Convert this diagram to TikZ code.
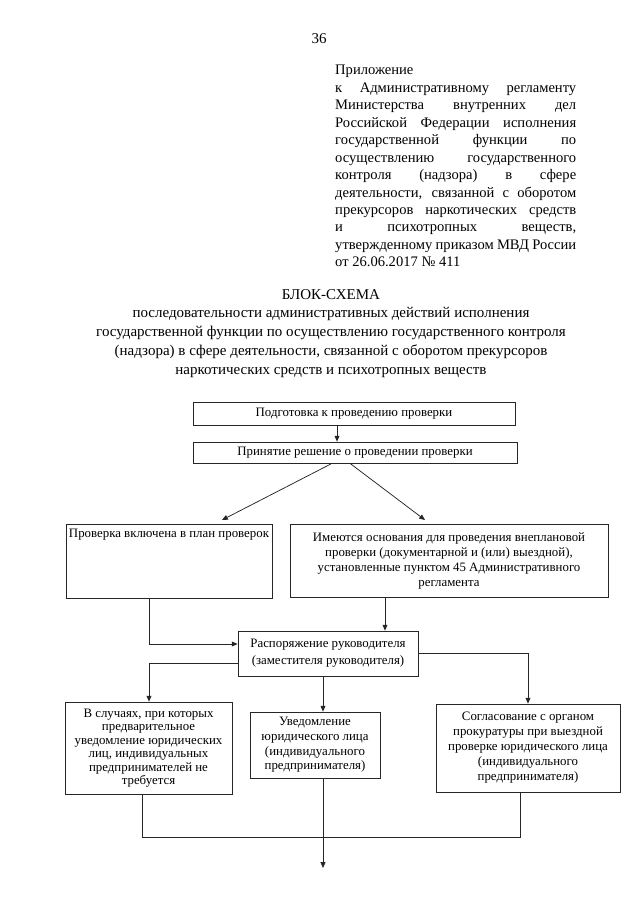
\documentclass[tikz,border=0pt]{standalone}
\usepackage{fontspec}
\setmainfont{Liberation Serif}
\usetikzlibrary{arrows.meta}
\newdimen\pxu \pxu=0.328mm
\newcommand{\jline}[1]{\makebox[79.05mm][s]{#1}}

\begin{document}
\begin{tikzpicture}[x=0.328mm,y=-0.328mm,
  box/.style={draw=black!85, line width=0.7pt, inner sep=0pt, align=center, font=\fontsize{12}{14}\selectfont},
  arr/.style={draw=black!85, line width=0.7pt, -{Triangle[length=1.9mm,width=1.6mm]}},
  lin/.style={draw=black!85, line width=0.7pt}]
\useasboundingbox (0,0) rectangle (640,905);
%PAGE NUMBER
\node[font=\fontsize{14}{16}\selectfont] (num) at (319,39) {36};
%HEADER
\node[anchor=north west, inner sep=0pt, align=left, font=\fontsize{13.6}{16.3}\selectfont] (hdr) at (335,65)
  {Приложение\\
   \jline{к Административному регламенту}\\
   \jline{Министерства внутренних дел}\\
   \jline{Российской Федерации исполнения}\\
   \jline{государственной функции по}\\
   \jline{осуществлению государственного}\\
   \jline{контроля (надзора) в сфере}\\
   \jline{деятельности, связанной с оборотом}\\
   \jline{прекурсоров наркотических средств}\\
   \jline{и психотропных веществ,}\\
   \jline{утвержденному приказом МВД России}\\
   от 26.06.2017 № 411};
%TITLE
\node[anchor=north, inner sep=0pt, align=center, font=\fontsize{14}{17.5}\selectfont] (ttl) at (331,289)
  {БЛОК-СХЕМА\\
   последовательности административных действий исполнения\\
   государственной функции по осуществлению государственного контроля\\
   (надзора) в сфере деятельности, связанной с оборотом прекурсоров\\
   наркотических средств и психотропных веществ};
%BOXES
\node[box, minimum width=322\pxu, minimum height=23\pxu] (b1) at (354,413.5) {Подготовка к проведению проверки};
\node[box, minimum width=324\pxu, minimum height=21\pxu] (b2) at (355,452.5) {Принятие решение о проведении проверки};
\node[box, minimum width=206\pxu, minimum height=74\pxu,
  label={[anchor=north, inner sep=0pt, yshift=-5\pxu, font=\fontsize{12}{14}\selectfont]north:Проверка включена в план проверок}] (b3) at (169,561) {};
\node[box, minimum width=318\pxu, minimum height=73\pxu] (b4) at (449,560.5)
  {Имеются основания для проведения внеплановой\\проверки (документарной и (или) выездной),\\установленные пунктом 45 Административного\\регламента};
\node[box, minimum width=180\pxu, minimum height=45\pxu, font=\fontsize{12}{16}\selectfont] (b5) at (328,653.5)
  {Распоряжение руководителя\\(заместителя руководителя)};
\node[box, minimum width=167\pxu, minimum height=92\pxu, font=\fontsize{12}{12.6}\selectfont] (b6) at (148.5,748)
  {В случаях, при которых\\предварительное\\уведомление юридических\\лиц, индивидуальных\\предпринимателей не\\требуется};
\node[box, minimum width=130\pxu, minimum height=66\pxu, font=\fontsize{12}{13.7}\selectfont] (b7) at (315,745)
  {Уведомление\\юридического лица\\(индивидуального\\предпринимателя)};
\node[box, minimum width=184\pxu, minimum height=88\pxu] (b8) at (528,748)
  {Согласование с органом\\прокуратуры при выездной\\проверке юридического лица\\(индивидуального\\предпринимателя)};
%POINTS
\coordinate (xa) at (337,0);
\coordinate (xl) at (149,0);
\coordinate (xr) at (385,0);
\coordinate (xm) at (323,0);
\coordinate (t3) at (222,520);
\coordinate (t4) at (425,520);
\coordinate (jl) at (142,837);
\coordinate (jr) at (520,837);
\coordinate (fin) at (323,868);
%ARROWS
\draw[arr] (b1.south -| xa) -- (b2.north -| xa);
\draw[arr] ([xshift=-23\pxu]b2.south) -- (t3);
\draw[arr] ([xshift=-5\pxu]b2.south) -- (t4);
\draw[arr] (b3.south -| xl) |- ([yshift=9.5\pxu]b5.west);
\draw[arr] (b4.south -| xr) -- (b5.north -| xr);
\draw[arr] ([yshift=-9.5\pxu]b5.west) -| (b6.north -| xl);
\draw[arr] (b5.south -| xm) -- (b7.north -| xm);
\draw[arr] (b5.east) -| (b8.north);
\draw[lin] (b6.south -| jl) -- (jl) -- (jr) -- (b8.south -| jr);
\draw[arr] (b7.south -| xm) -- (fin);
\end{tikzpicture}
\end{document}
